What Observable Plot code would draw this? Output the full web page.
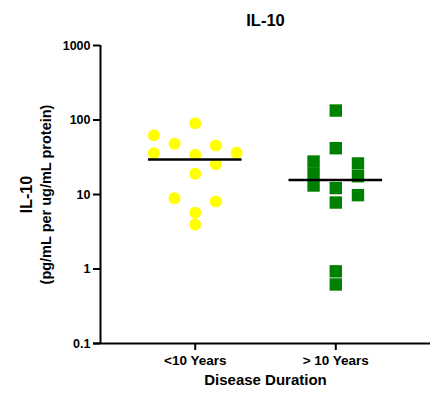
<!DOCTYPE html>
<html><head><meta charset="utf-8">
<script src="https://cdn.jsdelivr.net/npm/d3@7"></script>
<script src="https://cdn.jsdelivr.net/npm/@observablehq/plot@0.6"></script>
<style>body{margin:0;background:#fff;}</style>
</head><body><div id="chart"></div>
<script>
// ---- data ----
const categories = ["<10 Years", "> 10 Years"];
const shortValues = [90.6, 62.5, 47.9, 45.5, 35.8, 34.1, 36.3, 25.5, 19.0, 8.9, 8.05, 5.7, 3.96];
const shortSlots  = [0, -2, -1, 1, -2, 0, 2, 1, 0, -1, 1, 0, 0];
const longValues  = [134, 41.8, 27.7, 19.1, 13.2, 26.1, 17.6, 9.8, 12.2, 7.8, 0.93, 0.62];
const longSlots   = [0, 0, -1, -1, -1, 1, 1, 1, 0, 0, 0, 0];
const medians = [29.5, 15.6];
const yTicks = [0.1, 1, 10, 100, 1000];
const yTickLabels = ["0.1", "1", "10", "100", "1000"];
const titleText = "IL-10";
const yLabel1 = "IL-10";
const yLabel2 = "(pg/mL per ug/mL protein)";
const xLabel = "Disease Duration";

// ---- layout constants (styles) ----
const pad = 0.674;
const xDomain = [-pad, categories.length - 1 + pad];
const font = "'Liberation Sans', Arial, Helvetica, sans-serif";

const shortPts = shortValues.map((v, i) => ({g: 0, v, slot: shortSlots[i]}));
const longPts = longValues.map((v, i) => ({g: 1, v, slot: longSlots[i]}));
const medRows = medians.map((m, i) => ({g: i, m}));

const chart = Plot.plot({
  width: 430,
  height: 396,
  marginLeft: 100,
  marginRight: 0,
  marginTop: 45,
  marginBottom: 53,
  style: {fontFamily: font, fontWeight: "bold", color: "black", background: "white", overflow: "visible"},
  x: {type: "linear", domain: xDomain},
  y: {type: "log", domain: [0.1, 1000]},
  marks: [
    Plot.dot(shortPts, {x: d => d.g + d.slot * 0.147, y: "v", r: 6, fill: "#ffff00", stroke: "none"}),
    Plot.dot(longPts, {x: d => d.g + d.slot * 0.158, y: "v", r: 7, symbol: "square", fill: "#008000", stroke: "none"}),
    Plot.ruleY(medRows, {y: "m", x1: d => d.g - 0.333, x2: d => d.g + 0.333, stroke: "black", strokeWidth: 2.5}),
    Plot.ruleX([xDomain[0]], {stroke: "black", strokeWidth: 2}),
    Plot.ruleY([0.1], {stroke: "black", strokeWidth: 2, insetLeft: -7}),
    Plot.axisY({ticks: yTicks, tickFormat: (d) => yTickLabels[yTicks.indexOf(d)], tickSize: 7, tickPadding: 3, strokeWidth: 2, fontSize: 12.5, label: null}),
    Plot.axisX({ticks: categories.map((c, i) => i), tickFormat: i => categories[i], tickSize: 7, tickPadding: 5, strokeWidth: 2, fontSize: 13.5, label: null}),
    Plot.text([titleText], {text: d => d, frameAnchor: "top", dy: -31, fontSize: 16.5, fontWeight: "bold"}),
    Plot.text([xLabel], {text: d => d, frameAnchor: "bottom", dy: 41, fontSize: 15, fontWeight: "bold"}),
    Plot.text([yLabel1], {text: d => d, frameAnchor: "left", textAnchor: "middle", rotate: -90, dx: -74, fontSize: 16, fontWeight: "bold"}),
    Plot.text([yLabel2], {text: d => d, frameAnchor: "left", textAnchor: "middle", rotate: -90, dx: -54, fontSize: 14.5, fontWeight: "bold"})
  ]
});
document.getElementById("chart").appendChild(chart);
</script>
</body></html>
